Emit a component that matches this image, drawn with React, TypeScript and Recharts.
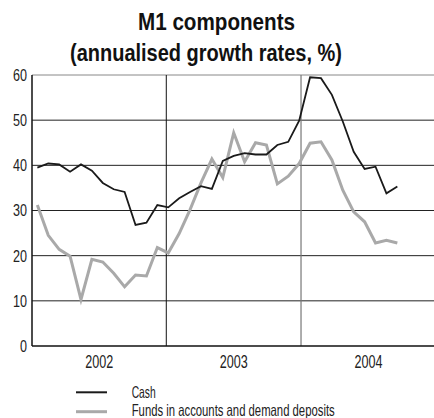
import React from "react";
import { LineChart, Line, XAxis, YAxis, ReferenceLine } from "recharts";

// Observation positions (one per month of data)
const positions: number[] = [
  0, 1, 2, 3, 4, 5, 6, 7, 8, 9, 10, 11, 12, 13, 14, 15, 16,
  17, 18, 19, 20, 21, 22, 23, 24, 25, 26, 27, 28, 29, 30, 31, 32, 33,
];

const cash: number[] = [
  39.5, 40.4, 40.2, 38.6, 40.2, 38.8, 36.1, 34.7, 34.1, 26.8, 27.3, 31.2,
  30.7, 32.7, 34.1, 35.4, 34.8, 41.0, 42.1, 42.7, 42.4, 42.4, 44.5, 45.2,
  49.9, 59.5, 59.3, 55.6, 49.7, 43.0, 39.2, 39.7, 33.8, 35.3,
];

const funds: number[] = [
  31.2, 24.5, 21.4, 19.9, 10.3, 19.2, 18.6, 16.1, 13.1, 15.7, 15.5, 21.8,
  20.6, 24.9, 30.2, 36.1, 41.4, 37.3, 47.2, 40.8, 45.0, 44.5, 35.9, 37.6,
  40.4, 44.9, 45.2, 41.2, 34.5, 29.7, 27.5, 22.8, 23.4, 22.8,
];

const yearLabels: string[] = ["2002", "2003", "2004"];
const yearCentres: number[] = [5.67, 18.0, 30.35];
const yearBoundaries: number[] = [11.82, 24.17];
const xDomain: number[] = [-0.49, 36.36];
const yTicks: number[] = [0, 10, 20, 30, 40, 50, 60];

const titleLines: string[] = ["M1 components", "(annualised growth rates, %)"];
const legendLabels: string[] = ["Cash", "Funds in accounts and demand deposits"];

const data = positions.map((p, i) => ({ p, cash: cash[i], funds: funds[i] }));

const FONT = "'Liberation Sans', Arial, sans-serif";
const CASH_COLOR = "#1a1a1a";
const FUNDS_COLOR = "#a9a9a9";
const TEXT_COLOR = "#222";

const YTick = (props: any) => {
  const { x, y, payload } = props;
  const s = String(payload.value);
  return (
    <text
      x={x}
      y={y}
      dy="0.36em"
      textAnchor="end"
      fontSize={16.5}
      fontFamily={FONT}
      fill={TEXT_COLOR}
      textLength={s.length * 7}
      lengthAdjust="spacingAndGlyphs"
    >
      {s}
    </text>
  );
};

const XTick = (props: any) => {
  const { x, y, payload } = props;
  const idx = yearCentres.indexOf(payload.value);
  const s = yearLabels[idx] ?? "";
  return (
    <text
      x={x}
      y={y}
      dy={12.5}
      textAnchor="middle"
      fontSize={17.5}
      fontFamily={FONT}
      fill={TEXT_COLOR}
      textLength={28}
      lengthAdjust="spacingAndGlyphs"
    >
      {s}
    </text>
  );
};

export default function App() {
  return (
    <div
      style={{
        position: "absolute",
        left: 0,
        top: 0,
        width: 434,
        height: 418,
        background: "#fff",
        overflow: "hidden",
      }}
    >
      <div style={{ position: "absolute", left: 0, top: 0 }}>
        <LineChart
          width={434}
          height={418}
          data={data}
          margin={{ top: 75, right: 0, bottom: 42, left: 0 }}
        >
          <XAxis
            dataKey="p"
            type="number"
            domain={xDomain}
            ticks={yearCentres}
            allowDataOverflow
            height={30}
            tickLine={false}
            tickSize={0}
            tickMargin={9}
            axisLine={{ stroke: "#111", strokeWidth: 1.5 }}
            tick={<XTick />}
          />
          <YAxis
            type="number"
            domain={[0, 60]}
            ticks={yTicks}
            width={32}
            tickLine={false}
            tickSize={0}
            tickMargin={5}
            axisLine={{ stroke: "#111", strokeWidth: 1.5 }}
            tick={<YTick />}
            interval={0}
          />
          {yTicks
            .filter((t) => t > 0 && t < 60)
            .map((t) => (
              <ReferenceLine key={t} y={t} stroke="#222" strokeWidth={1} />
            ))}
          <ReferenceLine y={60} stroke="#888" strokeWidth={1} />
          <ReferenceLine x={yearBoundaries[0]} stroke="#111" strokeWidth={1} />
          <ReferenceLine x={yearBoundaries[1]} stroke="#777" strokeWidth={1.2} />
          <Line
            dataKey="funds"
            stroke={FUNDS_COLOR}
            strokeWidth={3}
            dot={false}
            isAnimationActive={false}
            strokeLinejoin="miter"
          />
          <Line
            dataKey="cash"
            stroke={CASH_COLOR}
            strokeWidth={1.8}
            dot={false}
            isAnimationActive={false}
            strokeLinejoin="miter"
          />
        </LineChart>
      </div>
      <svg
        width={434}
        height={418}
        style={{ position: "absolute", left: 0, top: 0, pointerEvents: "none" }}
      >
        <text
          x={216.5}
          y={29.5}
          textAnchor="middle"
          fontFamily={FONT}
          fontWeight="bold"
          fontSize={23.5}
          fill="#111"
          textLength={157}
          lengthAdjust="spacingAndGlyphs"
        >
          {titleLines[0]}
        </text>
        <text
          x={206}
          y={61}
          textAnchor="middle"
          fontFamily={FONT}
          fontWeight="bold"
          fontSize={23.5}
          fill="#111"
          textLength={272}
          lengthAdjust="spacingAndGlyphs"
        >
          {titleLines[1]}
        </text>
        <line x1={76} x2={107} y1={392.3} y2={392.3} stroke={CASH_COLOR} strokeWidth={2} />
        <line x1={76} x2={107} y1={411.7} y2={411.7} stroke={FUNDS_COLOR} strokeWidth={3} />
        <text
          x={131.7}
          y={398.3}
          fontFamily={FONT}
          fontSize={16.5}
          fill={TEXT_COLOR}
          textLength={24}
          lengthAdjust="spacingAndGlyphs"
        >
          {legendLabels[0]}
        </text>
        <text
          x={131.7}
          y={416}
          fontFamily={FONT}
          fontSize={16.5}
          fill={TEXT_COLOR}
          textLength={203}
          lengthAdjust="spacingAndGlyphs"
        >
          {legendLabels[1]}
        </text>
      </svg>
    </div>
  );
}
